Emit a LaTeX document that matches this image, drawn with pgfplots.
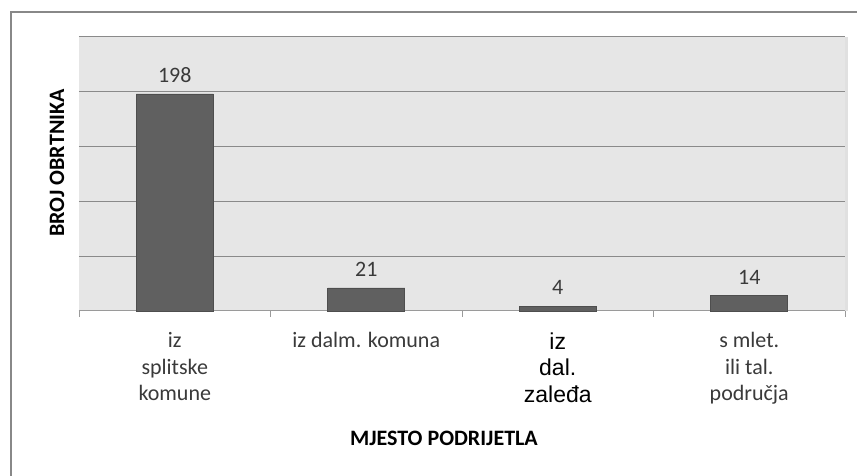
\documentclass[border=0pt]{standalone}
\usepackage{pgfplots}
\pgfplotsset{compat=1.18}
\usepackage{fontspec}
\setmainfont{Carlito}
\newfontfamily\lib{Liberation Sans}
\newcommand\libl{\lib\fontsize{23}{26}\selectfont\color{black}}
\definecolor{barc}{HTML}{606060}
\definecolor{bard}{HTML}{4E4E4E}
\definecolor{bgc}{HTML}{E6E6E6}
\definecolor{gridc}{HTML}{8A8A8A}
\definecolor{framec}{HTML}{888888}
\definecolor{txt}{HTML}{3A3A3A}
\definecolor{axc}{HTML}{9A9A9A}
\begin{document}
\begin{tikzpicture}[x=1pt,y=1pt]
\useasboundingbox (0,0) rectangle (857,476);
\fill[white] (0,0) rectangle (857,476);
\draw[color=framec, line width=2pt] (11,-20) -- (11,464) -- (880,464);
\fill[black!12] (845,165) rectangle (848,439);
\begin{axis}[
  at={(79pt,165pt)}, anchor=south west,
  scale only axis, width=766pt, height=274pt,
  xmin=-0.5, xmax=3.5, ymin=0, ymax=250,
  ybar, bar width=77pt,
  axis x line*=bottom, axis y line*=left,
  x axis line style={color=axc, line width=1pt, -},
  y axis line style={draw=none},
  axis background/.style={fill=bgc},
  ytick={0,50,100,150,200,250},
  yticklabel=\empty,
  ymajorgrids,
  major grid style={color=gridc, line width=1pt},
  xtick={0,1,2,3},
  major tick style={draw=none},
  major tick length=0pt,
  minor xtick={-0.5,0.5,1.5,2.5,3.5},
  minor tick length=6pt,
  minor x tick style={color=axc, line width=0.8pt},
  tick align=outside,
  xticklabels={{iz\\splitske\\komune},{iz dalm. komuna},{{\libl iz}\\{\libl dal.}\\{\libl zaleđa}},{s mlet.\\ili tal.\\područja}},
  xticklabel style={align=center, font=\fontsize{22}{26.5}\selectfont, text=txt, yshift=-18pt},
  /pgf/number format/assume math mode=true,
  nodes near coords,
  every node near coord/.append style={font=\fontsize{22}{26}\selectfont, text=txt, yshift=8pt},
  clip=false,
]
\addplot[fill=barc, draw=bard, line width=0.6pt] coordinates {(0,198) (1,21) (2,4) (3,14)};
\end{axis}
\node[rotate=90, font=\bfseries\fontsize{22}{26}\selectfont] at (57,313) {BROJ OBRTNIKA};
\node[font=\bfseries\fontsize{22}{26}\selectfont] at (444,38) {MJESTO PODRIJETLA};
\end{tikzpicture}
\end{document}
